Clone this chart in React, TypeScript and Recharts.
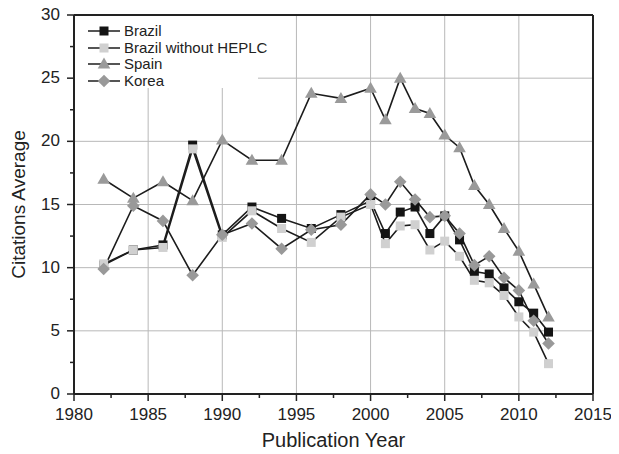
import React from "react";
import {
  LineChart, Line, XAxis, YAxis, CartesianGrid, ReferenceLine, Legend,
} from "recharts";

const years = [1982, 1984, 1986, 1988, 1990, 1992, 1994, 1996, 1998, 2000, 2001, 2002, 2003, 2004, 2005, 2006, 2007, 2008, 2009, 2010, 2011, 2012];
const brazil = [10.2, 11.4, 11.8, 19.7, 12.6, 14.8, 13.9, 13.1, 14.2, 15.3, 12.7, 14.4, 14.8, 12.7, 14.1, 12.2, 9.7, 9.5, 8.4, 7.3, 6.4, 4.9];
const brazilNoHeplc = [10.3, 11.4, 11.6, 19.4, 12.4, 14.5, 13.1, 12.0, 14.0, 15.0, 11.9, 13.3, 13.4, 11.4, 12.1, 10.9, 9.0, 8.8, 7.8, 6.1, 4.9, 2.4];
const spain = [17.0, 15.5, 16.8, 15.3, 20.1, 18.5, 18.5, 23.8, 23.4, 24.2, 21.7, 25.0, 22.6, 22.2, 20.5, 19.5, 16.5, 15.0, 13.1, 11.3, 8.7, 6.1];
const korea = [9.9, 14.9, 13.7, 9.4, 12.6, 13.5, 11.5, 13.0, 13.4, 15.8, 15.0, 16.8, 15.4, 14.0, 14.1, 12.7, 10.2, 10.9, 9.2, 8.2, 5.8, 4.0];

const xTicks = [1980, 1982.5, 1985, 1987.5, 1990, 1992.5, 1995, 1997.5, 2000, 2002.5, 2005, 2007.5, 2010, 2012.5, 2015];
const yTicks = [0, 2.5, 5, 7.5, 10, 12.5, 15, 17.5, 20, 22.5, 25, 27.5, 30];
const xGrid = [1985, 1990, 1995, 2000, 2005, 2010];
const yGrid = [5, 10, 15, 20, 25];

const data = years.map((year, i) => ({
  year,
  brazil: brazil[i],
  brazilNoHeplc: brazilNoHeplc[i],
  spain: spain[i],
  korea: korea[i],
}));

const FONT = '"Liberation Sans", Arial, sans-serif';
const AXIS = "#222";
const LINE = "#1c1c1c";

type Shape = "square" | "triangle" | "diamond";

const series: { key: string; name: string; shape: Shape; fill: string }[] = [
  { key: "brazil", name: "Brazil", shape: "square", fill: "#141414" },
  { key: "brazilNoHeplc", name: "Brazil without HEPLC", shape: "square", fill: "#d0d0d0" },
  { key: "spain", name: "Spain", shape: "triangle", fill: "#9a9a9a" },
  { key: "korea", name: "Korea", shape: "diamond", fill: "#999999" },
];

function marker(shape: Shape, fill: string, cx: number, cy: number, key?: string) {
  if (shape === "square") {
    return <rect key={key} x={cx - 4.5} y={cy - 4.5} width={9} height={9} fill={fill} />;
  }
  if (shape === "triangle") {
    return (
      <polygon key={key} fill={fill}
        points={`${cx},${cy - 6.5} ${cx + 6.3},${cy + 4.5} ${cx - 6.3},${cy + 4.5}`} />
    );
  }
  return (
    <polygon key={key} fill={fill}
      points={`${cx},${cy - 6.3} ${cx + 6.3},${cy} ${cx},${cy + 6.3} ${cx - 6.3},${cy}`} />
  );
}

const makeDot = (shape: Shape, fill: string) => (p: any) => {
  if (p.cx == null || p.cy == null) return <g key={`e${p.index}`} />;
  return marker(shape, fill, p.cx, p.cy, `d${p.index}`);
};

const XTick = (props: any) => {
  const { x, y, payload } = props;
  const major = payload.value % 5 === 0;
  return (
    <g>
      <line x1={x} y1={y} x2={x} y2={y + (major ? 7 : 4)} stroke={AXIS} strokeWidth={1.5} />
      {major && (
        <text x={x} y={y + 26} textAnchor="middle" fontSize={17} fontFamily={FONT} fill="#222">
          {payload.value}
        </text>
      )}
    </g>
  );
};

const YTick = (props: any) => {
  const { x, y, payload } = props;
  const major = payload.value % 5 === 0;
  return (
    <g>
      <line x1={x} y1={y} x2={x - (major ? 7 : 4)} y2={y} stroke={AXIS} strokeWidth={1.5} />
      {major && (
        <text x={x - 14} y={y + 5} textAnchor="end" fontSize={17} fontFamily={FONT} fill="#222">
          {payload.value}
        </text>
      )}
    </g>
  );
};

const LegendBox = () => (
  <div style={{
    background: "#fff", padding: "7px 0 0 13px", width: 170, height: 65,
    fontFamily: FONT, fontSize: 15, color: "#222", whiteSpace: "nowrap",
  }}>
    {series.map((s) => (
      <div key={s.key} style={{ display: "flex", alignItems: "center", height: 16.5 }}>
        <svg width={34} height={16} style={{ display: "block", flex: "none" }}>
          <line x1={0} y1={8} x2={32} y2={8} stroke={LINE} strokeWidth={1.5} />
          {marker(s.shape, s.fill, 16, 8)}
        </svg>
        <span style={{ marginLeft: 2, lineHeight: "16px" }}>{s.name}</span>
      </div>
    ))}
  </div>
);

export default function App() {
  return (
    <LineChart width={611} height={446} data={data}
      margin={{ top: 7, right: 26, left: 0, bottom: 7 }}>
      <CartesianGrid stroke="#b8b8b8" strokeWidth={1}
        verticalValues={xGrid} horizontalValues={yGrid} />
      <XAxis dataKey="year" type="number" domain={[1980, 2015]} ticks={xTicks} interval={0}
        allowDataOverflow height={53} tickSize={0} tickMargin={0} tick={<XTick />} tickLine={false}
        axisLine={{ stroke: AXIS, strokeWidth: 2 }}
        label={{ value: "Publication Year", position: "insideBottom", offset: 0, fontSize: 20, fontFamily: FONT, fill: "#222" }} />
      <YAxis type="number" domain={[0, 30]} ticks={yTicks} interval={0} allowDataOverflow
        width={66} tickSize={0} tickMargin={0} tick={<YTick />} tickLine={false}
        axisLine={{ stroke: AXIS, strokeWidth: 2 }}
        label={{ value: "Citations Average", angle: -90, position: "insideLeft", offset: 10,
          fontSize: 19, fontFamily: FONT, fill: "#222", style: { textAnchor: "middle" } }} />
      <ReferenceLine y={30} stroke={AXIS} strokeWidth={2} />
      <ReferenceLine x={2015} stroke={AXIS} strokeWidth={2} />
      <Legend layout="horizontal" align="center" verticalAlign="middle" content={<LegendBox />}
        wrapperStyle={{ left: 67, top: 8, width: 183, height: 72 }} />
      {series.map((s) => (
        <Line key={s.key} type="linear" dataKey={s.key} name={s.name} stroke={LINE} strokeWidth={1.6}
          dot={makeDot(s.shape, s.fill)} activeDot={false} isAnimationActive={false} />
      ))}
    </LineChart>
  );
}
